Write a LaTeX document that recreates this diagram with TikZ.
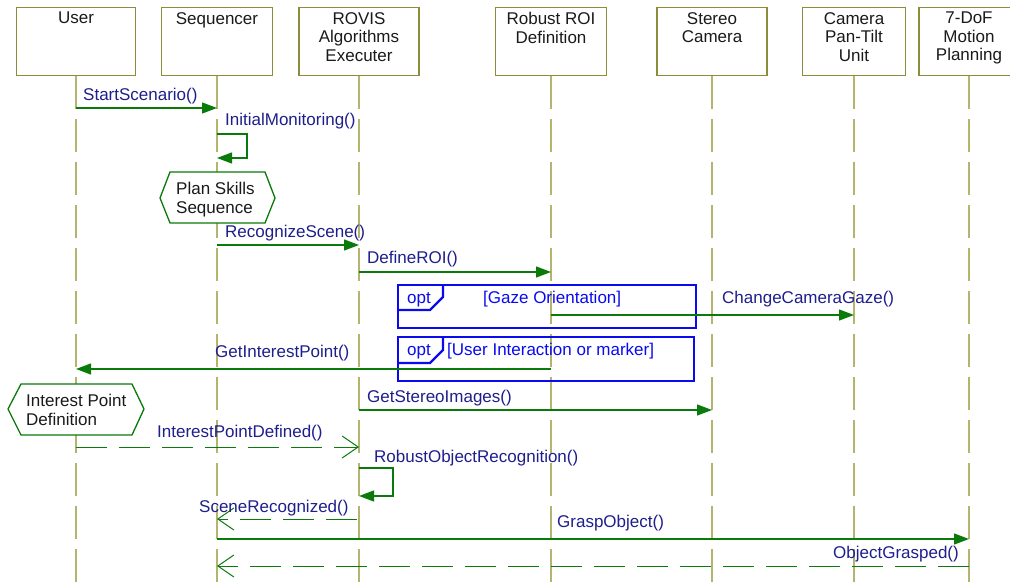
\documentclass[tikz,border=0pt]{standalone}
\usepackage{fontspec}
\setmainfont{Liberation Sans}
\usetikzlibrary{arrows.meta}
\definecolor{boxc}{HTML}{8C8C3A}
\definecolor{lifec}{HTML}{B4B46E}
\definecolor{msgc}{HTML}{0A7A0A}
\definecolor{labc}{HTML}{1E1E8C}
\definecolor{optc}{HTML}{0A0AF0}
\definecolor{txtc}{HTML}{1A1A1A}
\begin{document}
\begin{tikzpicture}[x=1pt,y=-1pt,
  actor/.style={draw=boxc, line width=1.4pt, fill=white, minimum height=68pt, anchor=north, inner sep=0pt},
  acttext/.style={anchor=north, inner sep=0pt, align=center, text=txtc, font=\fontsize{17}{18.5}\selectfont},
  life/.style={draw=lifec, line width=1.3pt, dash pattern=on 33pt off 10pt},
  msg/.style={draw=msgc, line width=1.3pt, -{Triangle[length=15pt,width=11pt]}},
  reply/.style={draw=msgc, line width=1pt, dash pattern=on 31pt off 12pt, -{Straight Barb[length=16pt,width=22pt,line width=1pt]}},
  lab/.style={anchor=base west, inner sep=0pt, text=labc, font=\fontsize{17}{18.5}\selectfont},
  hex/.style={draw=msgc, line width=1.3pt, fill=white},
  optframe/.style={draw=optc, line width=2.4pt, anchor=north west, inner sep=0pt},
  opttext/.style={anchor=base west, inner sep=0pt, text=optc, font=\fontsize{17}{18.5}\selectfont},
]
\useasboundingbox (0,0) rectangle (1010,583);

% actors
\node[actor, minimum width=119pt] (user)   at (76,7)  {};
\node[actor, minimum width=111pt] (seq)    at (217,7) {};
\node[actor, minimum width=120pt] (rovis)  at (359,7) {};
\node[actor, minimum width=111pt] (roi)    at (551,7) {};
\node[actor, minimum width=110pt] (stereo) at (712,7) {};
\node[actor, minimum width=103pt] (ptu)    at (854,7) {};
\node[actor, minimum width=100pt] (dof)    at (969,7) {};

\node[acttext] (userT)   at (76,12)  {User};
\node[acttext] (seqT)    at (217,12) {Sequencer};
\node[acttext] (rovisT)  at (359,12) {ROVIS\\Algorithms\\Executer};
\node[acttext] (roiT)    at (551,12) {Robust ROI\\Definition};
\node[acttext] (stereoT) at (712,12) {Stereo\\Camera};
\node[acttext] (ptuT)    at (854,12) {Camera\\Pan-Tilt\\Unit};
\node[acttext] (dofT)    at (969,12) {7-DoF\\Motion\\Planning};

% lifelines
\foreach \a in {user,seq,rovis,roi,stereo,ptu,dof}
  \draw[life] (\a.south) -- (\a.south |- 0,583);

% opt frames
\node[optframe, minimum width=298pt, minimum height=43pt] (opt1) at (397,284) {};
\draw[draw=optc, line width=2.4pt, line join=miter] ([xshift=46pt]opt1.north west) -- ++(0,13) -- ++(-13,13) -- ([yshift=-26pt]opt1.north west);
\node[opttext] (opt1a) at (407,303) {opt};
\node[opttext] (opt1b) at (483,303) {[Gaze Orientation]};

\node[optframe, minimum width=296pt, minimum height=44pt] (opt2) at (397,336) {};
\draw[draw=optc, line width=2.4pt, line join=miter] ([xshift=46pt]opt2.north west) -- ++(0,14) -- ++(-13,13) -- ([yshift=-27pt]opt2.north west);
\node[opttext] (opt2a) at (407,355) {opt};
\node[opttext] (opt2b) at (447,355) {[User Interaction or marker]};

% hexagons
\draw[hex] (160,198) -- (170,172) -- (265,172) -- (275,198) -- (265,223) -- (170,223) -- cycle;
\node[acttext, anchor=north west, align=left] (plan) at (176,182) {Plan Skills\\Sequence};
\draw[hex] (8,409) -- (21,384) -- (132,384) -- (144,409) -- (132,435) -- (21,435) -- cycle;
\node[acttext, anchor=north west, align=left] (ipd) at (26,394) {Interest Point\\Definition};

% messages
\draw[msg] (user.south |- 0,108) -- (seq.south |- 0,108);
\node[lab] (m1) at (83,101) {StartScenario()};

\draw[msg] (seq.south |- 0,134) -- ++(30,0) -- ++(0,24) -- (seq.south |- 0,158);
\node[lab] (m2) at (225,126) {InitialMonitoring()};

\draw[msg] (seq.south |- 0,245) -- (rovis.south |- 0,245);
\node[lab] (m3) at (225,237) {RecognizeScene()};

\draw[msg] (rovis.south |- 0,272) -- (roi.south |- 0,272);
\node[lab] (m4) at (367,263) {DefineROI()};

\draw[msg] (roi.south |- 0,315) -- (ptu.south |- 0,315);
\node[lab] (m5) at (722,303) {ChangeCameraGaze()};

\draw[msg] (roi.south |- 0,369) -- (user.south |- 0,369);
\node[lab] (m6) at (215,357) {GetInterestPoint()};

\draw[msg] (rovis.south |- 0,410) -- (stereo.south |- 0,410);
\node[lab] (m7) at (367,402) {GetStereoImages()};

\draw[reply] (user.south |- 0,447) -- (rovis.south |- 0,447);
\node[lab] (m8) at (157,437) {InterestPointDefined()};

\draw[msg] (rovis.south |- 0,468) -- ++(34,0) -- ++(0,28) -- (rovis.south |- 0,496);
\node[lab] (m9) at (374,462) {RobustObjectRecognition()};

\draw[reply] ([xshift=-2pt]rovis.south |- 0,519) -- (seq.south |- 0,519);
\node[lab] (m10) at (199,512) {SceneRecognized()};

\draw[msg] (seq.south |- 0,539) -- (dof.south |- 0,539);
\node[lab] (m11) at (557,527) {GraspObject()};

\draw[reply] (dof.south |- 0,566) -- (seq.south |- 0,566);
\node[lab, anchor=base east] (m12) at (959,558) {ObjectGrasped()};
\end{tikzpicture}
\end{document}
